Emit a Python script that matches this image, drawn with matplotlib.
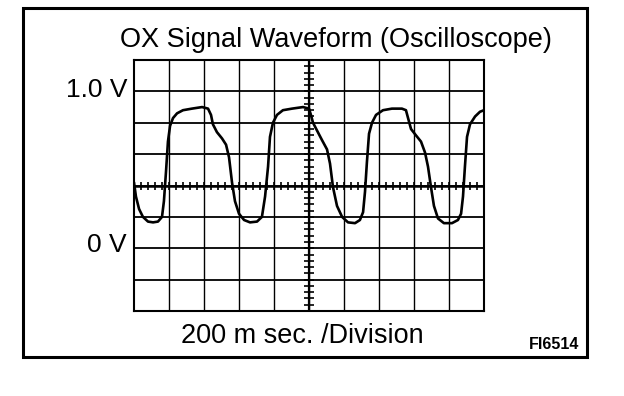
import matplotlib
matplotlib.use("Agg")
import matplotlib.pyplot as plt
import numpy as np
from matplotlib.patches import Rectangle

# Oscilloscope trace: time (ms) and voltage (V)
time_ms = [0, 11, 29, 51, 80, 109, 137, 160, 171, 183, 194, 206, 223, 246, 280, 331, 389,
           423, 440, 451, 474, 503, 526, 543, 560, 577, 600, 629, 663, 703, 731, 749, 766,
           777, 794, 817, 851, 903, 966, 1000, 1011, 1023, 1046, 1074, 1103, 1120, 1137,
           1160, 1189, 1223, 1263, 1291, 1309, 1320, 1331, 1343, 1360, 1383, 1423, 1474,
           1531, 1554, 1566, 1583, 1611, 1640, 1663, 1680, 1697, 1714, 1737, 1771, 1817,
           1851, 1869, 1880, 1891, 1903, 1920, 1949, 1977, 2000]
volts = [0.42, 0.33, 0.25, 0.20, 0.17, 0.165, 0.17, 0.20, 0.30, 0.49, 0.68, 0.78, 0.83, 0.86,
         0.88, 0.89, 0.90, 0.89, 0.85, 0.79, 0.74, 0.70, 0.66, 0.58, 0.42, 0.30, 0.22, 0.18,
         0.165, 0.17, 0.20, 0.33, 0.52, 0.71, 0.80, 0.85, 0.88, 0.89, 0.90, 0.89, 0.85, 0.80,
         0.75, 0.69, 0.63, 0.54, 0.39, 0.27, 0.20, 0.165, 0.16, 0.18, 0.23, 0.36, 0.55, 0.73,
         0.80, 0.85, 0.88, 0.89, 0.89, 0.88, 0.83, 0.76, 0.72, 0.68, 0.61, 0.52, 0.39, 0.27,
         0.19, 0.16, 0.16, 0.18, 0.22, 0.33, 0.52, 0.71, 0.79, 0.84, 0.87, 0.88]

# Screen: 10 divisions of 200 ms, 8 divisions of 0.2 V
ms_per_div = 200
v_per_div = 0.2
x_divs = 10
y_min, y_max = -0.4, 1.2

plt.rcParams['font.family'] = ['Liberation Sans', 'DejaVu Sans']

fig = plt.figure(figsize=(6.24, 3.96), dpi=100)

# outer frame
fig.patches.append(Rectangle((23 / 624, 1 - 357 / 396), 564 / 624, 349 / 396,
                             transform=fig.transFigure, fill=False, lw=2.2, ec='black'))

ax = fig.add_axes([134 / 624, 1 - 311 / 396, 350 / 624, 251 / 396])
ax.set_xlim(0, x_divs * ms_per_div)
ax.set_ylim(y_min, y_max)
ax.set_xticks([])
ax.set_yticks([])
for s in ax.spines.values():
    s.set_linewidth(1.5)

# grid
for xv in np.arange(ms_per_div, x_divs * ms_per_div, ms_per_div):
    ax.axvline(xv, color='black', lw=1.0, zorder=1)
for yv in np.arange(y_min + v_per_div, y_max - 0.01, v_per_div):
    ax.axhline(yv, color='black', lw=1.3, zorder=1)

# centre axes with fine graduations
x_mid = x_divs * ms_per_div / 2
y_mid = (y_min + y_max) / 2
ax.axvline(x_mid, color='black', lw=1.6, zorder=1)
ax.axhline(y_mid, color='black', lw=1.8, zorder=1)
ax.plot(np.arange(0, x_divs * ms_per_div + 1, ms_per_div / 5), [y_mid] * 51,
        ls='none', marker='|', ms=6, mew=1.2, color='black', zorder=1)
ax.plot([x_mid] * 41, np.arange(y_min, y_max + 0.001, v_per_div / 5),
        ls='none', marker='_', ms=7, mew=1.2, color='black', zorder=1)

# signal
ax.plot(time_ms, volts, color='black', lw=1.9, zorder=3, solid_capstyle='round')

# texts
fig.text(336 / 624, 1 - 47 / 396, 'OX Signal Waveform (Oscilloscope)',
         ha='center', va='baseline', fontsize=19.5)
fig.text(128 / 624, 1 - 97 / 396, '1.0 V', ha='right', va='baseline', fontsize=19)
fig.text(127 / 624, 1 - 252 / 396, '0 V', ha='right', va='baseline', fontsize=19)
fig.text(302 / 624, 1 - 343 / 396, '200 m sec. /Division',
         ha='center', va='baseline', fontsize=19.5)
fig.text(579 / 624, 1 - 349 / 396, 'FI6514', ha='right', va='baseline',
         fontsize=11.5, fontweight='bold')

fig.savefig('out.png', dpi=100, facecolor='white')
